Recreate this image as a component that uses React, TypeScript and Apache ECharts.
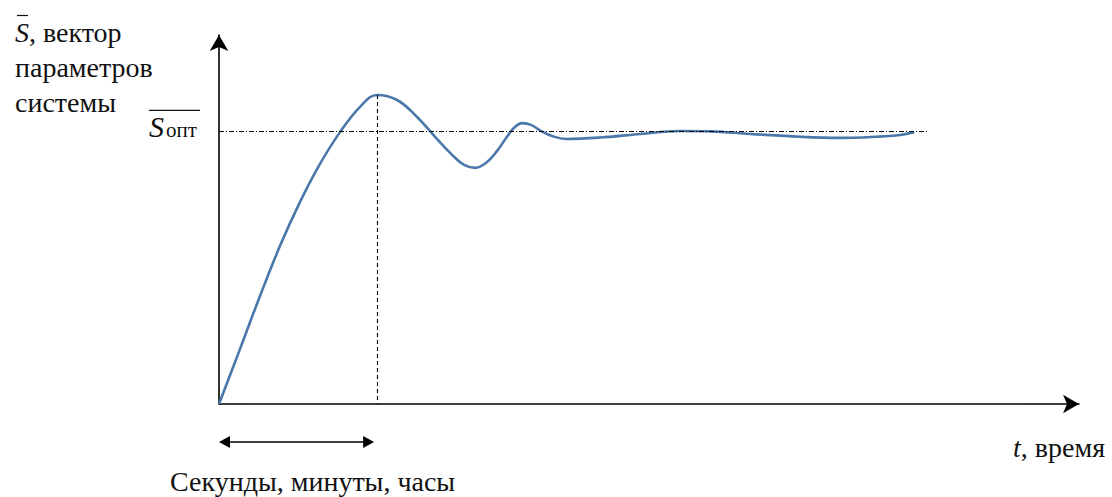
import React, { useEffect, useRef } from "react";
import * as echarts from "echarts";

// Time (arbitrary units) and system parameter vector values
const timeValues = [0, 2.46, 4.81, 7.16, 9.51, 11.85, 14.2, 16.55, 18.55, 20.9, 23.24, 25.35, 27.35, 28.76, 30.05, 31.34, 32.63, 33.69, 34.62, 35.56, 36.62, 37.79, 39.08, 40.73, 44.72, 49.41, 54.1, 57.63, 62.32, 68.19, 72.89, 77.0, 79.93, 81.57];
const paramValues = [0, 15.2, 29.9, 43.8, 56.0, 66.5, 75.3, 82.3, 85.6, 84.2, 79.5, 74.0, 69.0, 66.2, 65.4, 66.8, 70.1, 73.7, 76.5, 77.8, 77.3, 75.6, 74.2, 73.4, 73.8, 74.8, 75.6, 75.5, 74.8, 74.0, 73.7, 74.0, 74.5, 75.3];
const optimumValue = 75.5;
const optimumEndTime = 83.1;
const peakTime = 18.55;
const peakValue = 85.6;
const axisMaxTime = 100.9;
const axisMaxValue = 102.2;

const yLabelLines = ["параметров", "системы"];
const yLabelFirst = ", вектор";
const xLabel = ", время";
const rangeLabel = "Секунды, минуты, часы";
const optSub = "опт";

const SERIF = "Liberation Serif";
const TXT = "#111";

export default function App() {
  const ref = useRef<HTMLDivElement>(null);
  useEffect(() => {
    const chart = echarts.init(ref.current!, null, { renderer: "svg" });
    const axisCommon = {
      type: "value",
      min: 0,
      axisLine: {
        show: true,
        symbol: ["none", "arrow"],
        symbolSize: [14, 16],
        lineStyle: { color: "#000", width: 1.6 },
      },
      axisTick: { show: false },
      axisLabel: { show: false },
      splitLine: { show: false },
    };
    chart.setOption({
      animation: false,
      backgroundColor: "#fff",
      grid: { left: 219, right: 33, top: 35, bottom: 93 },
      xAxis: { ...axisCommon, max: axisMaxTime },
      yAxis: { ...axisCommon, max: axisMaxValue },
      series: [
        {
          type: "line",
          data: timeValues.map((t, i) => [t, paramValues[i]]),
          showSymbol: false,
          smooth: 0.4,
          clip: false,
          lineStyle: { color: "#4a78aa", width: 2.6 },
          markLine: {
            silent: true,
            symbol: ["none", "none"],
            label: { show: false },
            animation: false,
            data: [
              [
                { coord: [0, optimumValue], lineStyle: { color: "#000", width: 1, type: [5, 2, 1, 2] } },
                { coord: [optimumEndTime, optimumValue] },
              ],
              [
                { coord: [peakTime, peakValue], lineStyle: { color: "#000", width: 1.1, type: [4, 3] } },
                { coord: [peakTime, 0] },
              ],
            ],
          },
        },
      ],
    });

    const [x0, y0] = chart.convertToPixel({ gridIndex: 0 }, [0, 0]) as number[];
    const [xPeak] = chart.convertToPixel({ gridIndex: 0 }, [peakTime, 0]) as number[];
    const [, yOpt] = chart.convertToPixel({ gridIndex: 0 }, [0, optimumValue]) as number[];
    const arrowY = y0 + 38;
    const aL = x0;
    const aR = xPeak - 3;
    const head = 11;
    const hw = 6;

    const richFor = {
      i: { fontFamily: SERIF, fontSize: 28, fontStyle: "italic", fill: TXT },
      n: { fontFamily: SERIF, fontSize: 28, fill: TXT },
    };

    chart.setOption({
      graphic: [
        // double arrow
        { type: "line", shape: { x1: aL + head - 1, y1: arrowY, x2: aR - head + 1, y2: arrowY }, style: { stroke: "#000", lineWidth: 1.6 } },
        { type: "polygon", shape: { points: [[aL, arrowY], [aL + head, arrowY - hw], [aL + head, arrowY + hw]] }, style: { fill: "#000" } },
        { type: "polygon", shape: { points: [[aR, arrowY], [aR - head, arrowY - hw], [aR - head, arrowY + hw]] }, style: { fill: "#000" } },
        // y label
        {
          type: "text",
          x: 15,
          y: 32,
          style: {
            text: "{i|S}{n|" + yLabelFirst + "}",
            verticalAlign: "middle",
            fill: TXT,
            fontFamily: SERIF,
            fontSize: 28,
            rich: richFor,
          },
        },
        { type: "line", shape: { x1: 17, y1: 15.5, x2: 28, y2: 15.5 }, style: { stroke: TXT, lineWidth: 1.2 } },
        ...yLabelLines.map((s, i) => ({
          type: "text",
          x: 15,
          y: 67.5 + i * 34.5,
          style: { text: s, verticalAlign: "middle", fill: TXT, fontFamily: SERIF, fontSize: 28 },
        })),
        // S opt
        {
          type: "text",
          x: 149,
          y: yOpt - 5,
          style: { text: "S", verticalAlign: "middle", fill: TXT, fontFamily: SERIF, fontSize: 30, fontStyle: "italic" },
        },
        {
          type: "text",
          x: 166,
          y: yOpt - 1,
          style: { text: optSub, verticalAlign: "middle", fill: TXT, fontFamily: SERIF, fontSize: 21 },
        },
        { type: "line", shape: { x1: 149, y1: yOpt - 21, x2: 200, y2: yOpt - 21 }, style: { stroke: TXT, lineWidth: 1.2 } },
        // x label
        {
          type: "text",
          x: 1013,
          y: y0 + 43,
          style: {
            text: "{i|t}{n|" + xLabel + "}",
            verticalAlign: "middle",
            fill: TXT,
            fontFamily: SERIF,
            fontSize: 28,
            rich: richFor,
          },
        },
        // range label
        {
          type: "text",
          x: 170,
          y: y0 + 77,
          style: { text: rangeLabel, verticalAlign: "middle", fill: TXT, fontFamily: SERIF, fontSize: 28 },
        },
      ],
    });
    return () => chart.dispose();
  }, []);
  return <div ref={ref} style={{ position: "absolute", left: 0, top: 0, width: 1112, height: 497 }} />;
}
